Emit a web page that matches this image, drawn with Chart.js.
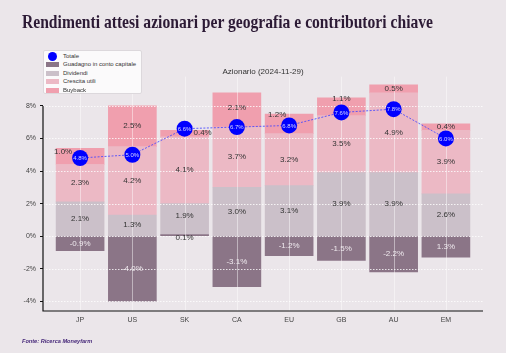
<!DOCTYPE html>
<html>
<head>
<meta charset="utf-8">
<script src="https://cdn.jsdelivr.net/npm/chart.js@4.4.1/dist/chart.umd.min.js"></script>
<style>
  html, body { margin: 0; padding: 0; background: #ebe6ea; }
  #wrap { position: relative; width: 506px; height: 353px; overflow: hidden; }
  #grafico { position: absolute; left: 0; top: 0; }
  #titolo {
    position: absolute; left: 22px; top: 11px; white-space: nowrap;
    font-family: "Liberation Serif", "DejaVu Serif", serif; font-weight: bold;
    font-size: 19px; line-height: normal; color: #2c1a35; transform-origin: left top;
  }
  #legenda {
    position: absolute; left: 43px; top: 50px; width: 99px; height: 44px;
    background: #fbfafb; border: 1px solid #dcd8dc; border-radius: 2px;
    font-family: "Liberation Sans", Arial, sans-serif; font-size: 6px; color: #333;
    padding-top: 0.5px; box-sizing: border-box;
  }
  .riga { position: relative; height: 8.5px; line-height: 8.5px; }
  .riga span { position: absolute; left: 19px; top: 0; }
  .box { position: absolute; left: 2px; top: 2px; width: 13px; height: 5px; }
  .pallino { position: absolute; left: 4px; top: 0px; width: 9px; height: 9px; border-radius: 50%; background: #0000ff; }
  #fonte {
    position: absolute; left: 22px; top: 338px; white-space: nowrap;
    font-family: "Liberation Sans", Arial, sans-serif; font-weight: bold; font-style: italic;
    font-size: 5.6px; color: #47297a;
  }
</style>
</head>
<body>
<div id="wrap">
  <canvas id="grafico" width="506" height="353"></canvas>
  <div id="titolo">Rendimenti attesi azionari per geografia e contributori chiave</div>
  <div id="legenda"></div>
  <div id="fonte">Fonte: Ricerca Moneyfarm</div>
</div>
<script>
const categorie = ['JP', 'US', 'SK', 'CA', 'EU', 'GB', 'AU', 'EM'];
const totale = [4.8, 5.0, 6.6, 6.7, 6.8, 7.6, 7.8, 6.0];
const capitale = [-0.9, -4.0, 0.1, -3.1, -1.2, -1.5, -2.2, -1.3];
const capitaleEtichette = ['-0.9%', '-4.0%', '0.1%', '-3.1%', '-1.2%', '-1.5%', '-2.2%', '1.3%'];
const dividendi = [2.1, 1.3, 1.9, 3.0, 3.1, 3.9, 3.9, 2.6];
const crescita = [2.3, 4.2, 4.1, 3.7, 3.2, 3.5, 4.9, 3.9];
const buyback = [1.0, 2.5, 0.4, 2.1, 1.2, 1.1, 0.5, 0.4];
const yTicks = [-4, -2, 0, 2, 4, 6, 8];

const colori = {
    totale: '#0000ff',
    capitale: '#8b7587',
    dividendi: '#cbc0c9',
    crescita: '#ecb9c5',
    buyback: '#f09fae'
};

// small shifts of some labels so they don't sit under the blue dots
const spostamenti = {
    '4:0': [-17, -5], '4:2': [18, -1], '4:3': [0, -2], '4:4': [-12, -9], '4:5': [0, -8],
    '2:2': [0, -3], '1:2': [0, 3]
};

function punti(arr) {
    return arr.map((v, i) => ({ x: i, y: v }));
}

// legend (html)
var leg = document.getElementById('legenda');
var voci = [
    ['Totale', colori.totale, true],
    ['Guadagno in conto capitale', colori.capitale],
    ['Dividendi', colori.dividendi],
    ['Crescita utili', colori.crescita],
    ['Buyback', colori.buyback]
];
voci.forEach(function (v) {
    var r = document.createElement('div');
    r.className = 'riga';
    var m = document.createElement('div');
    m.className = v[2] ? 'pallino' : 'box';
    m.style.background = v[1];
    r.appendChild(m);
    var s = document.createElement('span');
    s.textContent = v[0];
    r.appendChild(s);
    leg.appendChild(r);
});

// squeeze title to reference width
var tit = document.getElementById('titolo');
var w = tit.getBoundingClientRect().width;
if (w > 411) tit.style.transform = 'scaleX(' + (411 / w) + ')';

const pluginDisegno = {
    id: 'disegno',
    afterDatasetDraw(chart, args) {
        if (args.index !== 1) return;
        const ctx = chart.ctx, area = chart.chartArea;
        const xs = chart.scales.x, ys = chart.scales.y;
        ctx.save();
        // grid on top of bars
        ctx.lineWidth = 1;
        ctx.strokeStyle = 'rgba(255,255,255,0.45)';
        categorie.forEach((c, i) => {
            const px = Math.round(xs.getPixelForValue(i)) + 0.5;
            ctx.beginPath();
            ctx.moveTo(px, area.top);
            ctx.lineTo(px, area.bottom);
            ctx.stroke();
        });
        ctx.strokeStyle = 'rgba(255,255,255,0.8)';
        ctx.setLineDash([1.5, 1.5]);
        yTicks.forEach(v => {
            const py = Math.round(ys.getPixelForValue(v)) + 0.5;
            ctx.beginPath();
            ctx.moveTo(area.left, py);
            ctx.lineTo(area.right, py);
            ctx.stroke();
        });
        ctx.setLineDash([]);
        // bar labels
        ctx.font = '8px "Liberation Sans", Arial, sans-serif';
        ctx.textAlign = 'center';
        ctx.textBaseline = 'middle';
        for (let d = 1; d <= 4; d++) {
            const meta = chart.getDatasetMeta(d);
            meta.data.forEach((el, j) => {
                let testo;
                if (d === 1) testo = capitaleEtichette[j];
                else testo = chart.data.datasets[d].data[j].y.toFixed(1) + '%';
                const alto = Math.abs(el.base - el.y);
                const sp = spostamenti[d + ':' + j] || [0, 0];
                ctx.fillStyle = (d === 1 && alto > 8) ? '#efe9ee' : '#333333';
                ctx.fillText(testo, el.x + sp[0], (el.y + el.base) / 2 + sp[1]);
            });
        }
        ctx.restore();
    },
    afterDatasetsDraw(chart) {
        const ctx = chart.ctx, area = chart.chartArea;
        const ys = chart.scales.y;
        ctx.save();
        // dot labels
        ctx.font = '6px "Liberation Sans", Arial, sans-serif';
        ctx.textAlign = 'center';
        ctx.textBaseline = 'middle';
        ctx.fillStyle = '#d6d6ff';
        chart.getDatasetMeta(0).data.forEach((el, j) => {
            ctx.fillText(totale[j].toFixed(1) + '%', el.x, el.y + 0.5);
        });
        // spines
        ctx.strokeStyle = '#111';
        ctx.lineWidth = 1.2;
        ctx.beginPath();
        ctx.moveTo(area.left, Math.round(ys.getPixelForValue(yTicks[yTicks.length - 1])));
        ctx.lineTo(area.left, area.bottom);
        ctx.lineTo(area.right, area.bottom);
        ctx.stroke();
        ctx.restore();
    }
};

var ctx = document.getElementById('grafico').getContext('2d');
var grafico = new Chart(ctx, {
    type: 'bar',
    data: {
        datasets: [
            {
                type: 'line',
                label: 'Totale',
                data: punti(totale),
                stack: 'tot',
                borderColor: 'rgba(70,70,255,0.85)',
                borderWidth: 1,
                borderDash: [2, 1.5],
                pointRadius: 8,
                pointBackgroundColor: colori.totale,
                pointBorderColor: colori.totale,
                pointBorderWidth: 0,
                fill: false
            },
            { label: 'Guadagno in conto capitale', data: punti(capitale), backgroundColor: colori.capitale, stack: 'a', barThickness: 48 },
            { label: 'Dividendi', data: punti(dividendi), backgroundColor: colori.dividendi, stack: 'a', barThickness: 48 },
            { label: 'Crescita utili', data: punti(crescita), backgroundColor: colori.crescita, stack: 'a', barThickness: 48 },
            { label: 'Buyback', data: punti(buyback), backgroundColor: colori.buyback, stack: 'a', barThickness: 48 }
        ]
    },
    options: {
        responsive: false,
        animation: false,
        devicePixelRatio: 1,
        layout: { padding: { left: 0, right: 23, top: 0, bottom: 0 } },
        plugins: {
            legend: { display: false },
            tooltip: { enabled: false },
            title: {
                display: true,
                text: 'Azionario (2024-11-29)',
                fullSize: false,
                color: '#333',
                font: { family: '"Liberation Sans", Arial, sans-serif', size: 8, weight: 'normal' },
                padding: { top: 67, bottom: 0 }
            }
        },
        scales: {
            x: {
                type: 'linear',
                stacked: true,
                offset: false,
                min: -0.71,
                max: 7.71,
                afterBuildTicks: function (scale) {
                    scale.ticks = categorie.map((c, i) => ({ value: i }));
                },
                afterFit: function (scale) { scale.height = 42; },
                ticks: {
                    callback: function (v) { return categorie[v]; },
                    color: '#444',
                    font: { family: '"Liberation Sans", Arial, sans-serif', size: 7 },
                    padding: 5,
                    maxRotation: 0
                },
                grid: { display: false, drawTicks: false, tickLength: 0 },
                border: { display: false }
            },
            y: {
                stacked: true,
                min: -4.6,
                max: 9.8,
                afterBuildTicks: function (scale) {
                    scale.ticks = yTicks.map(v => ({ value: v }));
                },
                afterFit: function (scale) { scale.width = 43; },
                ticks: {
                    callback: function (v) { return v + '%'; },
                    color: '#444',
                    font: { family: '"Liberation Sans", Arial, sans-serif', size: 7 },
                    padding: 4
                },
                grid: { drawOnChartArea: false, drawTicks: true, tickLength: 3, tickColor: '#111' },
                border: { display: false }
            }
        }
    },
    plugins: [pluginDisegno]
});
</script>
</body>
</html>
